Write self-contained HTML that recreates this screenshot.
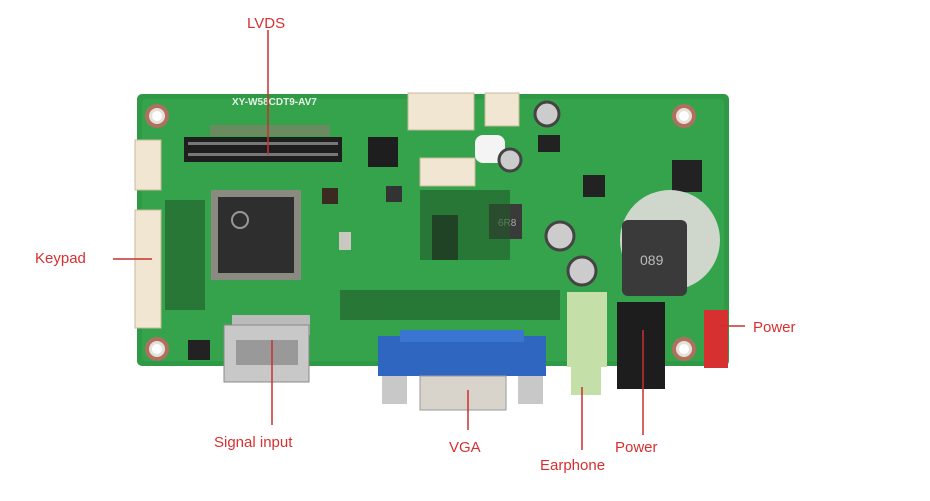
<!DOCTYPE html>
<html><head><meta charset="utf-8"><style>
html,body{margin:0;padding:0;background:#fff;}
svg{display:block;}
text{font-family:"Liberation Sans",sans-serif;}
</style></head><body>
<svg width="930" height="501" viewBox="0 0 930 501" xmlns="http://www.w3.org/2000/svg">
<rect width="930" height="501" fill="#fff"/>
<!-- board -->
<rect x="137" y="94" width="592" height="272" rx="5" fill="#2f9a45"/>
<rect x="142" y="99" width="582" height="262" rx="4" fill="#35a34b"/>
<!-- mounting holes -->
<g fill="#e8e0d8" stroke="#b07060" stroke-width="4">
<circle cx="157" cy="116" r="10"/><circle cx="684" cy="116" r="10"/>
<circle cx="157" cy="349" r="10"/><circle cx="684" cy="349" r="10"/>
</g>
<g fill="#fff"><circle cx="157" cy="116" r="5"/><circle cx="684" cy="116" r="5"/><circle cx="157" cy="349" r="5"/><circle cx="684" cy="349" r="5"/></g>
<text x="232" y="105" font-size="10" fill="#e8f0e8" font-weight="bold">XY-W58CDT9-AV7</text>
<!-- LVDS header -->
<rect x="184" y="137" width="158" height="25" fill="#1e1e1e"/>
<g fill="#777"><rect x="188" y="142" width="150" height="3"/><rect x="188" y="153" width="150" height="3"/></g>
<rect x="210" y="125" width="120" height="11" fill="#6a8a60"/>
<rect x="368" y="137" width="30" height="30" fill="#1e1e1e"/>
<!-- top white connectors -->
<rect x="408" y="93" width="66" height="37" fill="#f0e6d2" stroke="#c8b898"/>
<rect x="485" y="93" width="34" height="33" fill="#f0e6d2" stroke="#c8b898"/>
<rect x="420" y="158" width="55" height="28" fill="#f0e6d2" stroke="#c8b898"/>
<rect x="475" y="135" width="30" height="28" rx="8" fill="#f4f4f4"/>
<!-- left connectors -->
<rect x="135" y="140" width="26" height="50" fill="#f0e6d2" stroke="#c8b898"/>
<rect x="135" y="210" width="26" height="118" fill="#f0e6d2" stroke="#c8b898"/>
<!-- main chip -->
<rect x="211" y="190" width="90" height="90" fill="#8a8a80"/>
<rect x="218" y="197" width="76" height="76" fill="#2e2e2e"/>
<circle cx="240" cy="220" r="8" fill="none" stroke="#999" stroke-width="2"/>
<!-- small chips -->
<rect x="322" y="188" width="16" height="16" fill="#3a2a20"/>
<rect x="386" y="186" width="16" height="16" fill="#333"/>
<rect x="432" y="215" width="26" height="45" fill="#222"/>
<rect x="538" y="135" width="22" height="17" fill="#222"/>
<rect x="583" y="175" width="22" height="22" fill="#222"/>
<rect x="672" y="160" width="30" height="32" fill="#222"/>
<rect x="188" y="340" width="22" height="20" fill="#222"/>
<rect x="339" y="232" width="12" height="18" fill="#c8c8c0"/>
<!-- inductors -->
<rect x="489" y="204" width="33" height="35" fill="#3a3a3a"/>
<text x="498" y="226" font-size="10" fill="#aaa">6R8</text>
<circle cx="670" cy="240" r="50" fill="#cfd6cc"/>
<rect x="622" y="220" width="65" height="76" rx="6" fill="#3a3a3a"/>
<text x="640" y="265" font-size="14" fill="#bbb">089</text>
<!-- capacitors -->
<g fill="#ccc" stroke="#444" stroke-width="3">
<circle cx="547" cy="114" r="12"/><circle cx="510" cy="160" r="11"/>
<circle cx="560" cy="236" r="14"/><circle cx="582" cy="271" r="14"/>
</g>
<!-- resistor fields -->
<g fill="#1f5a2a" opacity="0.6">
<rect x="340" y="290" width="220" height="30"/><rect x="420" y="190" width="90" height="70"/><rect x="165" y="200" width="40" height="110"/>
</g>
<!-- HDMI -->
<rect x="232" y="315" width="78" height="20" fill="#bbb"/>
<rect x="224" y="325" width="85" height="57" fill="#c8c8c8" stroke="#888"/>
<rect x="236" y="340" width="62" height="25" fill="#999"/>
<!-- VGA -->
<rect x="378" y="336" width="168" height="40" fill="#2e66c0"/>
<rect x="400" y="330" width="124" height="12" fill="#3a76d0"/>
<rect x="382" y="376" width="25" height="28" fill="#c8c8c8"/>
<rect x="518" y="376" width="25" height="28" fill="#c8c8c8"/>
<rect x="420" y="376" width="86" height="34" fill="#d8d4cc" stroke="#999"/>
<!-- earphone -->
<rect x="567" y="292" width="40" height="75" fill="#c4e0a8"/>
<rect x="571" y="367" width="30" height="28" fill="#c4e0a8"/>
<!-- power jack -->
<rect x="617" y="302" width="48" height="87" fill="#1d1d1d"/>
<!-- red power conn -->
<rect x="704" y="310" width="24" height="58" fill="#d63030"/>
<!-- connector lines -->
<g stroke="#c83030" stroke-width="1.5">
<line x1="268" y1="30" x2="268" y2="155"/>
<line x1="113" y1="259" x2="152" y2="259"/>
<line x1="720" y1="326" x2="745" y2="326"/>
<line x1="272" y1="340" x2="272" y2="425"/>
<line x1="468" y1="390" x2="468" y2="430"/>
<line x1="582" y1="387" x2="582" y2="450"/>
<line x1="643" y1="330" x2="643" y2="435"/>
</g>
<g fill="#d83030" font-size="15">
<text x="247" y="28">LVDS</text>
<text x="35" y="263">Keypad</text>
<text x="753" y="332">Power</text>
<text x="214" y="447">Signal input</text>
<text x="449" y="452">VGA</text>
<text x="540" y="470">Earphone</text>
<text x="615" y="452">Power</text>
</g>
</svg>
</body></html>
